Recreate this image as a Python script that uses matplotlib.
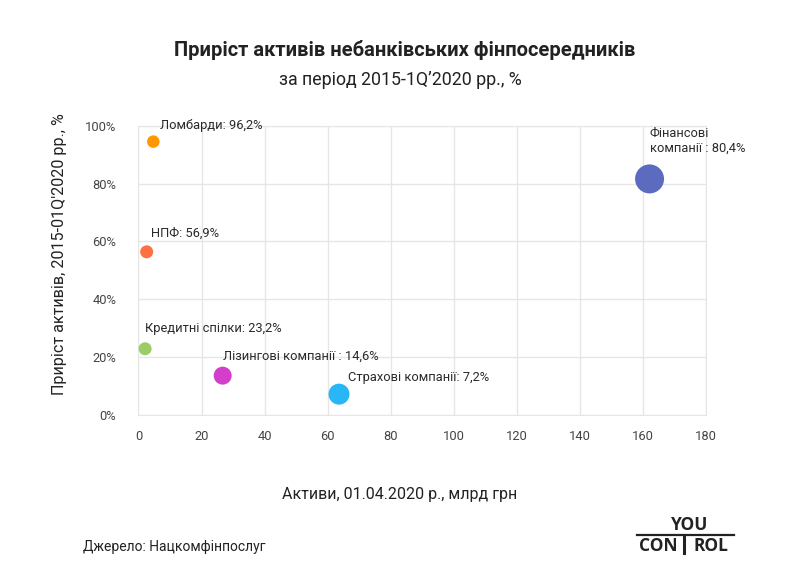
import matplotlib
matplotlib.use('Agg')
import matplotlib.pyplot as plt
from matplotlib.lines import Line2D
from matplotlib.ticker import FuncFormatter

plt.rcParams['font.family'] = ['Roboto', 'DejaVu Sans']

# дані
names = ["Ломбарди", "НПФ", "Кредитні спілки", "Лізингові компанії ",
         "Фінансові\nкомпанії ", "Страхові компанії"]
labels = ["96,2%", "56,9%", "23,2%", "14,6%", "80,4%", "7,2%"]
assets = [4.7, 2.6, 2.1, 26.7, 162.1, 63.6]          # млрд грн
growth = [94.5, 56.4, 22.9, 13.6, 81.6, 7.2]          # %
colors = ["#FF9800", "#FF7043", "#9CCC65", "#D33FCB", "#5C6BC0", "#29B6F6"]
diam_px = [12.5, 13, 13, 18, 29, 21]
offsets = [(7, 16), (4, 19), (0, 20), (0, 19), (0, 38), (9, 17)]

fig = plt.figure(figsize=(8, 5.83), dpi=100)
ax = fig.add_axes([0.1731, 0.2882, 0.7094, 0.4962])

sizes = [(d * 0.72) ** 2 for d in diam_px]
ax.scatter(assets, growth, s=sizes, c=colors, edgecolors='none', zorder=3)

for n, l, x, y, off in zip(names, labels, assets, growth, offsets):
    ax.annotate(f"{n}: {l}", (x, y), xytext=off, textcoords='offset pixels',
                ha='left', va='center', fontsize=9.3, color='#2a2a2a',
                linespacing=1.15, zorder=4)

ax.set_xlim(0, 180)
ax.set_ylim(0, 100)
ax.set_xticks(range(0, 181, 20))
ax.set_yticks(range(0, 101, 20))
ax.yaxis.set_major_formatter(FuncFormatter(lambda v, p: f"{v:.0f}%"))
ax.tick_params(length=0, labelsize=9.3, colors='#444444')
ax.tick_params(axis='x', pad=11)
ax.tick_params(axis='y', pad=16)
ax.grid(True, color='#e6e6e6', linewidth=1)
ax.set_axisbelow(True)
for s in ax.spines.values():
    s.set_color('#e6e6e6')

fig.text(0.506, 1 - 50 / 583, "Приріст активів небанківських фінпосередників",
         ha='center', va='center', fontsize=14.5, fontweight='bold', color='#222222')
fig.text(0.5, 1 - 80 / 583, "за період 2015-1Q’2020 рр., %",
         ha='center', va='center', fontsize=12.8, color='#222222')
fig.text(60 / 800, 1 - 254 / 583, "Приріст активів, 2015-01Q'2020 рр., %",
         rotation=90, ha='center', va='center', fontsize=11.6, color='#222222')
fig.text(0.5, 1 - 494 / 583, "Активи, 01.04.2020 р., млрд грн",
         ha='center', va='center', fontsize=11.5, color='#222222')
fig.text(83 / 800, 1 - 547 / 583, "Джерело: Нацкомфінпослуг",
         ha='left', va='center', fontsize=10, color='#222222')

# логотип
fig.text(690 / 800, 1 - 525 / 583, "YOU", ha='center', va='center',
         fontsize=12.5, fontweight='bold', color='#222222', family='Open Sans')
fig.text(658 / 800, 1 - 546 / 583, "CON", ha='center', va='center',
         fontsize=12.5, fontweight='bold', color='#222222', family='Open Sans')
fig.text(711 / 800, 1 - 546 / 583, "ROL", ha='center', va='center',
         fontsize=12.5, fontweight='bold', color='#222222', family='Open Sans')
fig.add_artist(Line2D([637 / 800, 734 / 800], [1 - 535 / 583, 1 - 535 / 583],
                      color='#222222', linewidth=1.6))
fig.add_artist(Line2D([683.5 / 800, 683.5 / 800], [1 - 535 / 583, 1 - 553 / 583],
                      color='#222222', linewidth=2.2))

fig.savefig("out.png", dpi=100, facecolor='white')
